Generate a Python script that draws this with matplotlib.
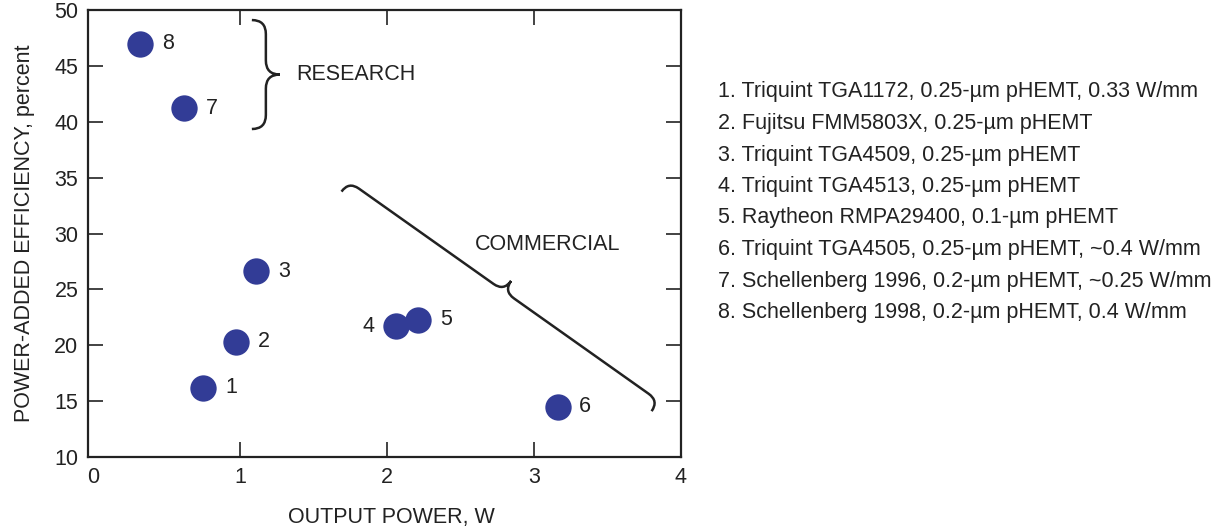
import numpy as np
import matplotlib
matplotlib.use("Agg")
import matplotlib.pyplot as plt
from matplotlib.path import Path
from matplotlib.patches import PathPatch

plt.rcParams['font.family'] = ['Liberation Sans', 'DejaVu Sans']

# data
ids = [1, 2, 3, 4, 5, 6, 7, 8]
power = [0.75, 0.97, 1.11, 2.06, 2.21, 3.16, 0.62, 0.32]
pae = [16.2, 20.3, 26.6, 21.7, 22.3, 14.5, 41.2, 47.0]
label_side = [1, 1, 1, -1, 1, 1, 1, 1]

devices = [
    "1. Triquint TGA1172, 0.25-\u00b5m pHEMT, 0.33 W/mm",
    "2. Fujitsu FMM5803X, 0.25-\u00b5m pHEMT",
    "3. Triquint TGA4509, 0.25-\u00b5m pHEMT",
    "4. Triquint TGA4513, 0.25-\u00b5m pHEMT",
    "5. Raytheon RMPA29400, 0.1-\u00b5m pHEMT",
    "6. Triquint TGA4505, 0.25-\u00b5m pHEMT, ~0.4 W/mm",
    "7. Schellenberg 1996, 0.2-\u00b5m pHEMT, ~0.25 W/mm",
    "8. Schellenberg 1998, 0.2-\u00b5m pHEMT, 0.4 W/mm",
]

FS = 15.5
INK = '#222222'
W, H = 1221, 529
fig = plt.figure(figsize=(W / 100, H / 100), dpi=100)
ax = fig.add_axes([88 / W, (H - 457) / H, (681 - 88) / W, (457 - 10) / H])

ax.scatter(power, pae, s=360, color='#323c96', zorder=3, linewidths=0)
for i, x, y, side in zip(ids, power, pae, label_side):
    ax.annotate(str(i), (x, y), xytext=(side * 20, 0), textcoords='offset points',
                ha='center', va='center', fontsize=FS, color=INK)

ax.set_xlim(-0.035, 4.0)
ax.set_ylim(10, 50)
ax.set_xticks([0, 1, 2, 3, 4])
ax.set_yticks(range(10, 51, 5))
ax.tick_params(direction='in', length=11, width=1.2, labelsize=FS, pad=7,
               top=True, right=True, colors=INK)
for t in [ax.xaxis.get_major_ticks()[0], ax.xaxis.get_major_ticks()[-1],
          ax.yaxis.get_major_ticks()[0], ax.yaxis.get_major_ticks()[-1]]:
    t.tick1line.set_visible(False)
    t.tick2line.set_visible(False)
for sp in ax.spines.values():
    sp.set_linewidth(1.6)
    sp.set_color(INK)

ax.set_xlabel("OUTPUT POWER, W", fontsize=FS, color=INK)
ax.xaxis.set_label_coords(0.512, -0.135, transform=ax.transAxes)
ax.xaxis.label.set_va('center')
ax.set_ylabel("POWER-ADDED EFFICIENCY, percent", fontsize=FS, labelpad=14, color=INK)


def brace(p1, p2, h):
    # curly brace between two data points, tip on the left-hand normal, h in pixels
    a = ax.transData.transform(p1)
    b = ax.transData.transform(p2)
    d = b - a
    t = d / np.hypot(*d)
    n = np.array([-t[1], t[0]])
    m = (a + b) / 2
    verts = [a, a + n * h, a + n * h + t * h,
             m - t * h + n * h, m + n * h, m + n * 2 * h,
             m + n * h, m + t * h + n * h,
             b - t * h + n * h, b + n * h, b]
    codes = [Path.MOVETO, Path.CURVE3, Path.CURVE3,
             Path.LINETO, Path.CURVE3, Path.CURVE3,
             Path.CURVE3, Path.CURVE3,
             Path.LINETO, Path.CURVE3, Path.CURVE3]
    verts = ax.transData.inverted().transform(np.array(verts))
    ax.add_patch(PathPatch(Path(verts, codes), fill=False, lw=1.8,
                           color=INK, clip_on=False))


brace((1.08, 49.1), (1.08, 39.35), 14)
brace((1.69, 33.75), (3.80, 14.1), 12.5)
ax.text(1.38, 44.2, "RESEARCH", fontsize=FS, va='center', ha='left', color=INK)
ax.text(2.6, 29.0, "COMMERCIAL", fontsize=FS, va='center', ha='left', color=INK)

for k, s in enumerate(devices):
    fig.text(718 / W, 1 - (92 + k * 31.5) / H, s, fontsize=FS, va='center',
             ha='left', color=INK)

fig.savefig("out.png", dpi=100)
